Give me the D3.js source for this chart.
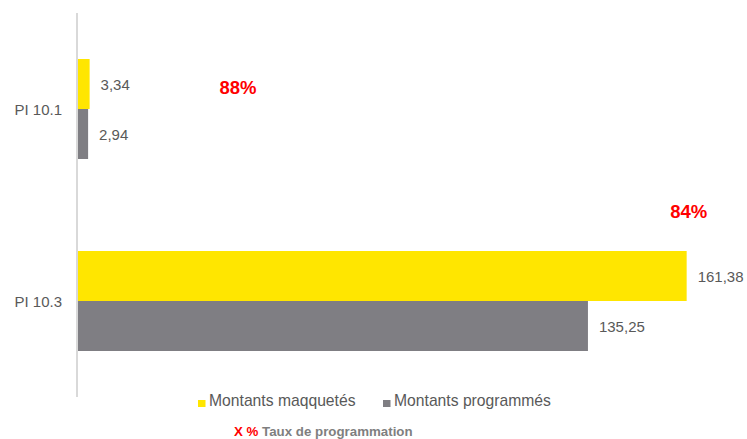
<!DOCTYPE html>
<html>
<head>
<meta charset="utf-8">
<script src="https://cdn.jsdelivr.net/npm/d3@7"></script>
<style>
  body { margin: 0; background: #fff; }
  svg { display: block; font-family: "Liberation Sans", Arial, sans-serif; }
</style>
</head>
<body>
<svg width="747" height="439"></svg>
<script>
// chart data
const categories = ['PI 10.1', 'PI 10.3'];
const seriesNames = ['Montants maqquetés', 'Montants programmés'];
const maquettes = [3.34, 161.38];
const programmes = [2.94, 135.25];
const taux = ['88%', '84%'];

const colors = ['#FFE600', '#7F7E83'];
const fmt = v => d3.format('.2f')(v).replace('.', ',');

const svg = d3.select('svg');
const plotTop = 13, plotBottom = 397, plotLeft = 77;

const y = d3.scaleBand()
    .domain(categories)
    .range([plotTop, plotBottom])
    .paddingInner(0)
    .paddingOuter(0);

const x = d3.scaleLinear()
    .domain([0, 180])
    .range([plotLeft, plotLeft + 680]);

const barH = 50;

const rows = categories.map((c, i) => ({
    cat: c,
    values: [maquettes[i], programmes[i]],
    taux: taux[i]
}));

// bars
const groups = svg.selectAll('g.cat')
    .data(rows)
    .enter()
    .append('g')
    .attr('class', 'cat');

groups.selectAll('rect')
    .data(d => d.values.map((v, k) => ({ cat: d.cat, v, k })))
    .enter()
    .append('rect')
    .attr('x', x(0))
    .attr('y', d => y(d.cat) + y.bandwidth() / 2 - barH + d.k * barH)
    .attr('width', d => x(d.v) - x(0))
    .attr('height', barH)
    .attr('fill', d => colors[d.k]);

groups.selectAll('text.value')
    .data(d => d.values.map((v, k) => ({ cat: d.cat, v, k })))
    .enter()
    .append('text')
    .attr('class', 'value')
    .attr('x', d => x(d.v) + 11)
    .attr('y', d => y(d.cat) + y.bandwidth() / 2 - barH / 2 + d.k * barH + 1)
    .attr('dy', '0.35em')
    .attr('font-size', 15)
    .attr('fill', '#595959')
    .text(d => fmt(d.v));

// axis line
svg.append('line')
    .attr('x1', plotLeft).attr('x2', plotLeft)
    .attr('y1', plotTop).attr('y2', plotBottom)
    .attr('stroke', '#d9d9d9')
    .attr('stroke-width', 2);

// category labels
svg.selectAll('text.cat')
    .data(categories)
    .enter()
    .append('text')
    .attr('class', 'cat')
    .attr('x', plotLeft - 15)
    .attr('y', d => y(d) + y.bandwidth() / 2 + 1)
    .attr('dy', '0.35em')
    .attr('text-anchor', 'end')
    .attr('font-size', 15)
    .attr('fill', '#595959')
    .text(d => d);

// taux labels
const tauxPos = [
    { x: 238, dy: -21 },
    { x: x(161.38) + 2, dy: -89 }
];
svg.selectAll('text.taux')
    .data(rows)
    .enter()
    .append('text')
    .attr('class', 'taux')
    .attr('x', (d, i) => tauxPos[i].x)
    .attr('y', (d, i) => y(d.cat) + y.bandwidth() / 2 + tauxPos[i].dy)
    .attr('dy', '0.35em')
    .attr('text-anchor', 'middle')
    .attr('font-size', 18.5)
    .attr('font-weight', 'bold')
    .attr('fill', '#FF0000')
    .text(d => d.taux);

// legend
const legend = svg.append('g');
const legendX = [198, 383];
seriesNames.forEach((s, i) => {
    legend.append('rect')
        .attr('x', legendX[i]).attr('y', 400)
        .attr('width', 7.5).attr('height', 7)
        .attr('fill', colors[i]);
    legend.append('text')
        .attr('x', legendX[i] + 11).attr('y', 401)
        .attr('dy', '0.35em')
        .attr('font-size', 15.7)
        .attr('fill', '#595959')
        .text(s);
});

const note = svg.append('text')
    .attr('x', 234).attr('y', 431.5)
    .attr('dy', '0.35em')
    .attr('font-size', 13.3)
    .attr('font-weight', 'bold');
note.append('tspan').attr('fill', '#FF0000').text('X % ');
note.append('tspan').attr('fill', '#7F7F7F').text('Taux de programmation');
</script>
</body>
</html>
